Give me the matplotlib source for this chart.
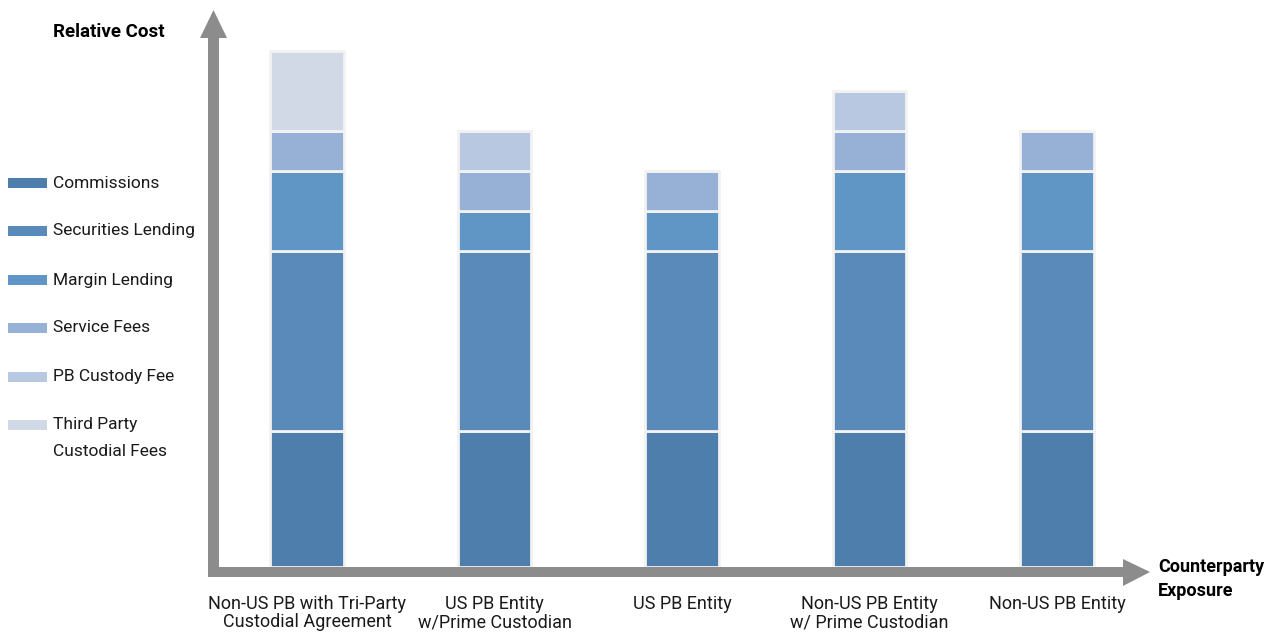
import matplotlib
matplotlib.use("Agg")
import matplotlib.pyplot as plt
from matplotlib.patches import Polygon, Rectangle
import numpy as np

plt.rcParams['font.family'] = ['Liberation Sans Narrow', 'Roboto', 'DejaVu Sans']

categories = ["Non-US PB with Tri-Party\nCustodial Agreement",
              "US PB Entity\nw/Prime Custodian",
              "US PB Entity",
              "Non-US PB Entity\nw/ Prime Custodian",
              "Non-US PB Entity"]
series = ["Commissions", "Securities Lending", "Margin Lending",
          "Service Fees", "PB Custody Fee", "Third Party\nCustodial Fees"]
colors = ["#4e7eac", "#5a8aba", "#6096c6", "#97b1d6", "#b8c8e0", "#d1d9e7"]

commissions = [3.4, 3.4, 3.4, 3.4, 3.4]
securities_lending = [4.5, 4.5, 4.5, 4.5, 4.5]
margin_lending = [2, 1, 1, 2, 2]
service_fees = [1, 1, 1, 1, 1]
pb_custody = [0, 1, 0, 1, 0]
third_party = [2, 0, 0, 0, 0]
values = [commissions, securities_lending, margin_lending,
          service_fees, pb_custody, third_party]

W, H = 1270, 636
fig = plt.figure(figsize=(W / 100, H / 100), dpi=100)


def fx(px):
    return px / W


def fy(py):
    return 1 - py / H


# axes placed so bars sit on the x-axis arrow
ax_left, ax_right, ax_bottom, ax_top = 208, 1150, 567, 10
ax = fig.add_axes([fx(ax_left), fy(ax_bottom), fx(ax_right - ax_left),
                   (ax_bottom - ax_top) / H])
ax.set_xlim(-0.528, 4.496)
ax.set_ylim(0, (ax_bottom - ax_top) / 40)
ax.axis('off')

x = np.arange(len(categories))
bottom = np.zeros(len(categories))
for vals, col in zip(values, colors):
    vals = np.array(vals, dtype=float)
    ax.bar(x, vals, bottom=bottom, width=0.39, color=col,
           edgecolor="#f2f2f2", linewidth=2.0)
    bottom += vals

for xi, lab in zip(x, categories):
    ax.annotate(lab, xy=(xi, 0), xycoords='data', xytext=(0, -20),
                textcoords='offset points', ha='center', va='top',
                fontsize=13, color='#1a1a1a', linespacing=1.05,
                annotation_clip=False)

# axis arrows
gray = "#8c8c8c"
yarrow = [(208, 577), (208, 38), (200, 38), (213.5, 10), (227, 38),
          (219, 38), (219, 577)]
xarrow = [(208, 567), (1123, 567), (1123, 559), (1150, 572), (1123, 586),
          (1123, 577), (208, 577)]
for pts in (yarrow, xarrow):
    fig.add_artist(Polygon([(fx(a), fy(b)) for a, b in pts], closed=True,
                           transform=fig.transFigure, color=gray, lw=0))

fig.text(fx(53), fy(32), "Relative Cost", fontsize=13.5, fontweight='bold',
         va='center', ha='left', color='black')
fig.text(fx(1158), fy(567), "Counterparty", fontsize=13, fontweight='bold',
         va='center', ha='left', color='black')
fig.text(fx(1158), fy(591), "Exposure", fontsize=13, fontweight='bold',
         va='center', ha='left', color='black')

# legend
leg_y = [183, 231, 280, 328, 377, 425]
for name, col, ly in zip(series, colors, leg_y):
    fig.add_artist(Rectangle((fx(8), fy(ly + 5)), fx(39), 10 / H,
                             transform=fig.transFigure, color=col, lw=0))
    for k, line in enumerate(name.split('\n')):
        fig.text(fx(53), fy(ly + 26 * k), line, fontsize=12.5, va='center',
                 ha='left', color='#1a1a1a')

fig.savefig("out.png", dpi=100)
